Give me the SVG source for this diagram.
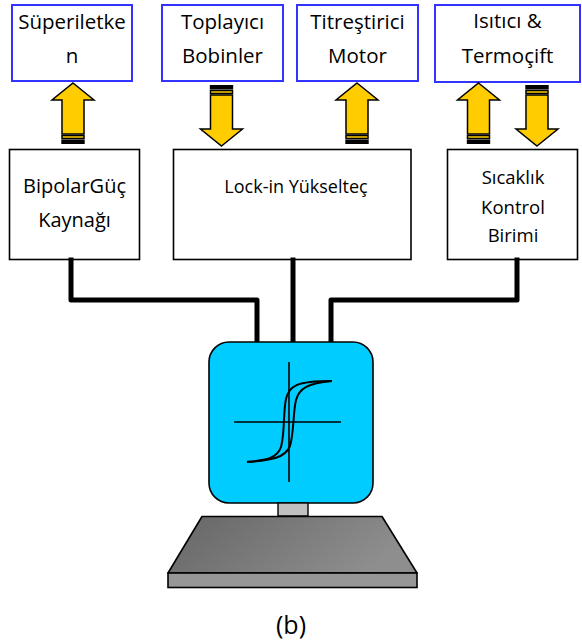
<svg xmlns="http://www.w3.org/2000/svg" width="582" height="643" viewBox="0 0 582 643">
  <style>
    .out { fill: #ffffff; stroke: #3333ff; stroke-width: 2; }
    .unit { fill: #ffffff; stroke: #000000; stroke-width: 1.6; }
    .lbl { font-family: "Open Sans", "Liberation Sans", sans-serif; fill: #000000; text-anchor: middle; }
    .wire { fill: none; stroke: #000000; stroke-width: 5; stroke-linejoin: round; stroke-linecap: square; }
    .arr { fill: #ffcc00; stroke: #000000; stroke-width: 1.5; stroke-linejoin: miter; }
    .ax { stroke: #000000; stroke-width: 1.6; fill: none; }
    .loop { stroke: #000000; stroke-width: 2; fill: none; }
  </style>
  <defs>
    <!-- striped block arrow pointing up, tip at origin -->
    <g id="arrowUp">
      <path class="arr" d="M0,0 L21,17 L11,17 L11,51 L-11,51 L-11,17 L-21,17 Z"/>
      <rect class="arr" x="-11" y="52.5" width="22" height="3"/>
      <rect x="-11.7" y="56.5" width="23.4" height="4.5" fill="#000000"/>
    </g>
    <linearGradient id="plate" x1="0" y1="0" x2="1" y2="0.3">
      <stop offset="0" stop-color="#656565"/>
      <stop offset="1" stop-color="#8e8e8e"/>
    </linearGradient>
  </defs>

  <rect width="582" height="643" fill="#ffffff"/>

  <!-- output devices -->
  <g id="superiletken">
    <rect class="out" x="12" y="5" width="120" height="76"/>
    <text class="lbl" x="72" y="29" font-size="20.5">Süperiletke</text>
    <text class="lbl" x="72" y="63" font-size="20.5">n</text>
  </g>
  <g id="toplayici">
    <rect class="out" x="162" y="5" width="121" height="76"/>
    <text class="lbl" x="222.5" y="29" font-size="20.5">Toplayıcı</text>
    <text class="lbl" x="222.5" y="63" font-size="20.5">Bobinler</text>
  </g>
  <g id="titrestirici">
    <rect class="out" x="297" y="5" width="121" height="76"/>
    <text class="lbl" x="357.5" y="29" font-size="20.5">Titreştirici</text>
    <text class="lbl" x="357.5" y="63" font-size="20.5">Motor</text>
  </g>
  <g id="isitici">
    <rect class="out" x="435" y="5" width="145" height="77"/>
    <text class="lbl" x="507.5" y="28" font-size="20.5">Isıtıcı &amp;</text>
    <text class="lbl" x="507.5" y="63" font-size="20.5">Termoçift</text>
  </g>

  <!-- signal arrows -->
  <g id="arrows">
    <use href="#arrowUp" transform="translate(73,83)"/>
    <use href="#arrowUp" transform="translate(221.5,146) scale(1,-1)"/>
    <use href="#arrowUp" transform="translate(357,83)"/>
    <use href="#arrowUp" transform="translate(478.5,83)"/>
    <use href="#arrowUp" transform="translate(537,146) scale(1,-1)"/>
  </g>

  <!-- instrument units -->
  <g id="bipolar">
    <rect class="unit" x="9.5" y="149.5" width="130" height="110"/>
    <text class="lbl" x="74.5" y="193" font-size="20">BipolarGüç</text>
    <text class="lbl" x="74.5" y="227" font-size="20">Kaynağı</text>
  </g>
  <g id="lockin">
    <rect class="unit" x="173.5" y="149.5" width="237.5" height="110"/>
    <text class="lbl" x="296" y="193" font-size="18">Lock-in Yükselteç</text>
  </g>
  <g id="sicaklik">
    <rect class="unit" x="447.5" y="149.5" width="130" height="110"/>
    <text class="lbl" x="513" y="184" font-size="18.5">Sıcaklık</text>
    <text class="lbl" x="513" y="214" font-size="18.5">Kontrol</text>
    <text class="lbl" x="513" y="242" font-size="18.5">Birimi</text>
  </g>

  <!-- cabling to the sample holder -->
  <g id="connectors">
    <path class="wire" d="M71,260 L71,300 L257,300 L257,342"/>
    <path class="wire" d="M293,260 L293,342"/>
    <path class="wire" d="M517,260 L517,300 L331,300 L331,342"/>
  </g>

  <!-- measurement head with hysteresis display -->
  <g id="sample-head">
    <rect x="209" y="342" width="164" height="161" rx="20" ry="20" fill="#00ccff" stroke="#000000" stroke-width="1.6"/>
    <line class="ax" x1="289" y1="362" x2="289" y2="482"/>
    <line class="ax" x1="234" y1="422" x2="341" y2="422"/>
    <path class="loop" d="M247,462 C265,460 277,459 281,447 C285,433 283,412 286,399 C289,386 296,381 332,381"/>
    <path class="loop" d="M247,462 C272,460 285,458 290,446 C294,433 293,412 296,400 C299,389 307,383 332,381"/>
  </g>

  <!-- stand -->
  <g id="stand">
    <rect x="278" y="503" width="30" height="13" fill="#c0c0c0" stroke="#000000" stroke-width="1.4"/>
    <path d="M202,516.5 L382,516.5 L417,573 L168,573 Z" fill="url(#plate)" stroke="#000000" stroke-width="1.6" stroke-linejoin="round"/>
    <rect x="168" y="573" width="249" height="14.5" fill="#969696" stroke="#000000" stroke-width="1.6"/>
  </g>

  <text class="lbl" x="291" y="634" font-size="25">(b)</text>
</svg>
